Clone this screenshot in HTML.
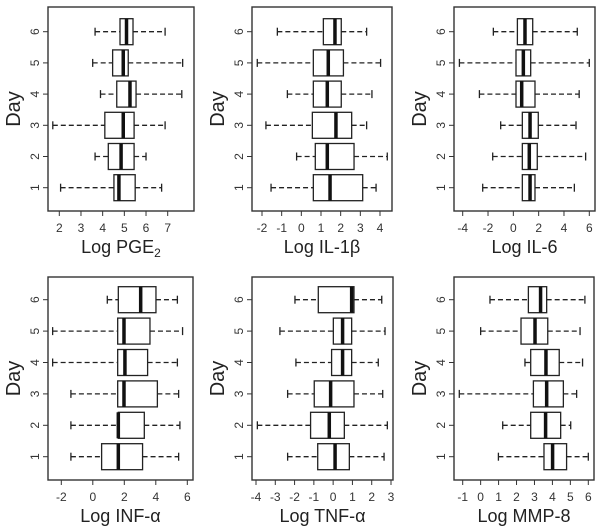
<!DOCTYPE html>
<html><head><meta charset="utf-8"><style>
html,body{margin:0;padding:0;background:#fff}
svg{display:block;font-family:"Liberation Sans",Arial,sans-serif}
</style></head><body>
<svg id="c" width="603" height="531" viewBox="0 0 603 531" xmlns="http://www.w3.org/2000/svg"></svg>
<script>
const days = [1,2,3,4,5,6];
// five-number summaries per day (min, q1, median, q3, max), day 1..6
const pgeMin=[2.06,3.65,1.7,3.9,3.54,3.65], pgeQ1=[4.52,4.26,4.1,4.65,4.46,4.8], pgeMed=[4.75,4.85,4.95,5.26,4.95,5.1], pgeQ3=[5.5,5.45,5.45,5.54,5.18,5.4], pgeMax=[6.72,6.0,6.88,7.65,7.69,6.88];
const il1Min=[-1.54,-0.24,-1.8,-0.71,-2.24,-1.22], il1Q1=[0.61,0.71,0.56,0.61,0.61,1.12], il1Med=[1.46,1.32,1.76,1.32,1.37,1.71], il1Q3=[3.12,2.68,2.56,2.03,2.14,2.03], il1Max=[3.8,4.37,3.32,3.59,4.03,3.32];
const il6Min=[-2.42,-1.63,-1.0,-2.68,-4.26,-1.58], il6Q1=[0.71,0.71,0.71,0.21,0.21,0.32], il6Med=[1.32,1.26,1.32,0.66,0.79,0.92], il6Q3=[1.71,1.89,1.97,1.71,1.37,1.53], il6Max=[4.82,5.71,4.95,5.2,6.0,5.05];
const infMin=[-1.39,-1.39,-1.39,-2.55,-2.55,0.92], infQ1=[0.56,1.62,1.58,1.58,1.58,1.62], infMed=[1.62,1.62,1.98,2.04,1.98,3.04], infQ3=[3.16,3.27,4.1,3.48,3.63,4.01], infMax=[5.45,5.53,5.45,5.37,5.7,5.37];
const tnfMin=[-2.36,-3.93,-2.36,-1.93,-2.76,-1.98], tnfQ1=[-0.8,-1.17,-0.98,-0.08,0.01,-0.77], tnfMed=[0.1,-0.2,-0.13,0.49,0.49,0.96], tnfQ3=[0.84,0.58,1.08,0.96,0.96,1.08], tnfMax=[2.64,2.81,2.57,2.34,2.69,2.52];
const mmpMin=[0.99,1.23,-1.19,2.47,0.0,0.52], mmpQ1=[3.53,2.79,2.94,2.79,2.25,2.66], mmpMed=[4.01,3.62,3.68,3.64,3.03,3.34], mmpQ3=[4.79,4.46,4.61,4.38,3.74,3.68], mmpMax=[6.0,5.02,5.35,5.68,5.54,5.81];
// tick labels
const pgeTicks=[2,3,4,5,6,7], il1Ticks=[-2,-1,0,1,2,3,4], il6Ticks=[-4,-2,0,2,4,6], infTicks=[-2,0,2,4,6], tnfTicks=[-4,-3,-2,-1,0,1,2,3], mmpTicks=[-1,0,1,2,3,4,5,6];

const NS="http://www.w3.org/2000/svg";
const svg=document.getElementById('c');
function mk(tag,attrs,parent){const e=document.createElementNS(NS,tag);for(const k in attrs)e.setAttribute(k,attrs[k]);(parent||svg).appendChild(e);return e;}

const panels=[
 {name:'pge2',label:['Log PGE','2',''],mins:pgeMin,q1:pgeQ1,med:pgeMed,q3:pgeQ3,maxs:pgeMax,ticks:pgeTicks,L:48,R:194,T:7,B:211,a:[2,59.3],b:[7,167.7],row:0},
 {name:'il-1b',label:['Log IL-1\u03B2'],mins:il1Min,q1:il1Q1,med:il1Med,q3:il1Q3,maxs:il1Max,ticks:il1Ticks,L:252,R:392,T:7,B:211,a:[-2,262],b:[4,380],row:0},
 {name:'il-6',label:['Log IL-6'],mins:il6Min,q1:il6Q1,med:il6Med,q3:il6Q3,maxs:il6Max,ticks:il6Ticks,L:454,R:595,T:7,B:211,a:[-4,462.7],b:[6,589.3],row:0},
 {name:'inf-a',label:['Log INF-\u03B1'],mins:infMin,q1:infQ1,med:infMed,q3:infQ3,maxs:infMax,ticks:infTicks,L:48,R:193,T:277,B:480,a:[-2,61.3],b:[6,187.3],row:1},
 {name:'tnf-a',label:['Log TNF-\u03B1'],mins:tnfMin,q1:tnfQ1,med:tnfMed,q3:tnfQ3,maxs:tnfMax,ticks:tnfTicks,L:252,R:393,T:277,B:480,a:[-4,256],b:[3,391],row:1},
 {name:'mmp-8',label:['Log MMP-8'],mins:mmpMin,q1:mmpQ1,med:mmpMed,q3:mmpQ3,maxs:mmpMax,ticks:mmpTicks,L:454,R:594,T:277,B:480,a:[-1,462.7],b:[6,588.3],row:1}
];

panels.forEach(p=>{
  const g=mk('g',{});
  
  
  const xs=v=>p.a[1]+(v-p.a[0])*(p.b[1]-p.a[1])/(p.b[0]-p.a[0]);
  const y6=p.row?299.7:31.7, y1=p.row?456.7:187.7;
  const ys=d=>y1+(d-1)*(y6-y1)/5;
  days.forEach((d,i)=>{
    const y=ys(d), h=13, c=4;
    const bg=mk('g',{},g);
    
    
    mk('line',{x1:xs(p.mins[i]),x2:xs(p.q1[i]),y1:y,y2:y,stroke:'#222','stroke-width':1.3,'stroke-dasharray':'5,3'},bg);
    mk('line',{x1:xs(p.q3[i]),x2:xs(p.maxs[i]),y1:y,y2:y,stroke:'#222','stroke-width':1.3,'stroke-dasharray':'5,3'},bg);
    mk('line',{x1:xs(p.mins[i]),x2:xs(p.mins[i]),y1:y-c,y2:y+c,stroke:'#222','stroke-width':1.3},bg);
    mk('line',{x1:xs(p.maxs[i]),x2:xs(p.maxs[i]),y1:y-c,y2:y+c,stroke:'#222','stroke-width':1.3},bg);
    mk('rect',{x:xs(p.q1[i]),y:y-h,width:xs(p.q3[i])-xs(p.q1[i]),height:2*h,fill:'#fff',stroke:'#222','stroke-width':1.3},bg);
    mk('line',{x1:xs(p.med[i]),x2:xs(p.med[i]),y1:y-h,y2:y+h,stroke:'#111','stroke-width':3.5},bg);
    mk('line',{x1:p.L,x2:p.L-5,y1:y,y2:y,stroke:'#333','stroke-width':1},g);
    const t=mk('text',{x:0,y:0,transform:`translate(${p.L-9},${y}) rotate(-90)`,'text-anchor':'middle','font-size':12,fill:'#333'},g);
    
    
    t.textContent=d;
  });
  const fr=mk('rect',{x:p.L,y:p.T,width:p.R-p.L,height:p.B-p.T,fill:'none',stroke:'#333','stroke-width':1.4},g);
  
  
  p.ticks.forEach(v=>{
    const x=xs(v);
    mk('line',{x1:x,x2:x,y1:p.B,y2:p.B+5,stroke:'#333','stroke-width':1},g);
    const t=mk('text',{x:x,y:p.B+21,'text-anchor':'middle','font-size':12,fill:'#333'},g);
    
    
    t.textContent=v<0?'-'+Math.abs(v):v;
  });
  const xl=mk('text',{x:(p.L+p.R)/2,y:p.B+42,'text-anchor':'middle','font-size':18,fill:'#222'},g);
  
  
  const ts=mk('tspan',{},xl); ts.textContent=p.label[0];
  if(p.label[1]){const s=mk('tspan',{'font-size':12,dy:4},xl); s.textContent=p.label[1];}
  const yl=mk('text',{x:0,y:0,transform:`translate(${p.L-28},${(p.T+p.B)/2}) rotate(-90)`,'text-anchor':'middle','font-size':20,fill:'#222'},g);
  
  
  yl.textContent='Day';
});
</script>
</body></html>
